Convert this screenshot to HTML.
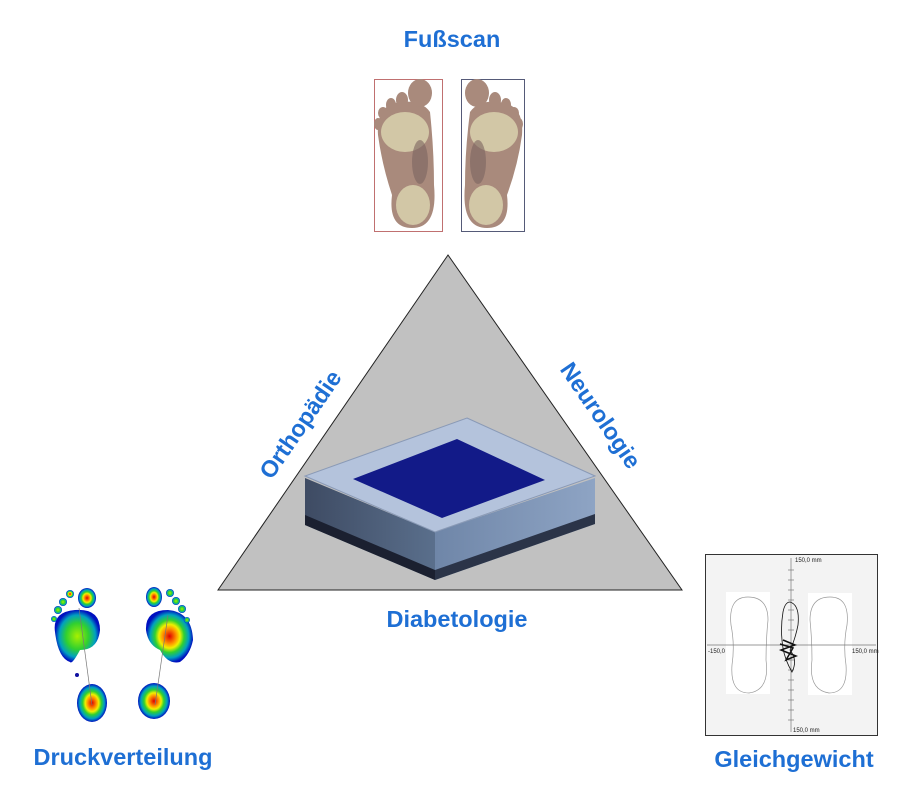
<!DOCTYPE html>
<html><head><meta charset="utf-8"><style>
html,body{margin:0;padding:0;background:#fff;width:905px;height:785px;overflow:hidden}
svg{display:block}
text{font-family:"Liberation Sans",sans-serif;font-weight:bold;fill:#1e6fd4}
</style></head><body>
<svg width="905" height="785" viewBox="0 0 905 785" xmlns="http://www.w3.org/2000/svg">
<defs>
<radialGradient id="heat" cx="50%" cy="50%" r="50%">
<stop offset="0" stop-color="#e00000"/><stop offset="0.3" stop-color="#ff9900"/><stop offset="0.45" stop-color="#f0f000"/><stop offset="0.62" stop-color="#30d030"/><stop offset="0.82" stop-color="#00a0c0"/><stop offset="1" stop-color="#0010c0"/></radialGradient>
<radialGradient id="heatg" cx="50%" cy="50%" r="50%">
<stop offset="0" stop-color="#a8f000"/><stop offset="0.5" stop-color="#30d030"/><stop offset="0.8" stop-color="#00a0c0"/><stop offset="1" stop-color="#0010c0"/></radialGradient>
<linearGradient id="side1" x1="0" y1="0" x2="1" y2="0"><stop offset="0" stop-color="#3e4b63"/><stop offset="1" stop-color="#5a6f8c"/></linearGradient>
<linearGradient id="side2" x1="0" y1="0" x2="1" y2="0"><stop offset="0" stop-color="#6f86a8"/><stop offset="1" stop-color="#8ea4c4"/></linearGradient>
</defs>

<text x="452" y="47" font-size="23.5" text-anchor="middle">Fußscan</text>

<!-- foot scans -->
<rect x="374.5" y="79.5" width="68" height="152" fill="none" stroke="#c07070" stroke-width="1"/>
<rect x="461.5" y="79.5" width="63" height="152" fill="none" stroke="#555a78" stroke-width="1"/>
<g fill="#a98a7c">
<path d="M378 135 Q376 108 395 103 Q420 98 430 112 Q434 150 434 185 Q438 228 412 228 Q388 228 392 195 Q382 165 378 135Z"/>
<ellipse cx="420" cy="93" rx="12" ry="14"/><ellipse cx="402" cy="100" rx="6" ry="8"/><ellipse cx="391" cy="105" rx="5" ry="7"/><ellipse cx="383" cy="113" rx="5" ry="6"/><ellipse cx="378" cy="124" rx="4" ry="6"/>
<path d="M522 135 Q524 108 505 103 Q480 98 470 112 Q465 150 465 185 Q461 228 487 228 Q511 228 507 195 Q518 165 522 135Z"/>
<ellipse cx="477" cy="93" rx="12" ry="14"/><ellipse cx="495" cy="100" rx="6" ry="8"/><ellipse cx="506" cy="105" rx="5" ry="7"/><ellipse cx="514" cy="113" rx="5" ry="6"/><ellipse cx="519" cy="124" rx="4" ry="6"/>
</g>
<g fill="#d2c7a6">
<ellipse cx="405" cy="132" rx="24" ry="20"/><ellipse cx="413" cy="205" rx="17" ry="20"/>
<ellipse cx="494" cy="132" rx="24" ry="20"/><ellipse cx="486" cy="205" rx="17" ry="20"/>
</g>
<g fill="#7c6460" opacity="0.6"><ellipse cx="420" cy="162" rx="8" ry="22"/><ellipse cx="478" cy="162" rx="8" ry="22"/></g>

<!-- triangle -->
<polygon points="448,255 218,590 682,590" fill="#c1c1c1" stroke="#222" stroke-width="1"/>

<text font-size="23.5" text-anchor="middle" transform="translate(307,429) rotate(-55.5)">Orthopädie</text>
<text font-size="23.5" text-anchor="middle" transform="translate(594,420) rotate(55.5)">Neurologie</text>
<text x="457" y="627" font-size="23.5" text-anchor="middle">Diabetologie</text>

<!-- device -->
<polygon points="305,478 435,532 435,580 305,525" fill="url(#side1)"/>
<polygon points="435,532 595,478 595,524 435,580" fill="url(#side2)"/>
<polygon points="305,515 435,570 435,580 305,525" fill="#1b2030"/>
<polygon points="435,570 595,514 595,524 435,580" fill="#2b3448"/>
<polygon points="467,418 595,476 435,532 305,476" fill="#b4c3dc" stroke="#8a9ab6" stroke-width="1"/>
<polygon points="457,439 545,480 442,518 353,479" fill="#121a88"/>

<!-- pressure distribution -->
<g>
<path d="M55 632 Q52 612 75 610 Q100 608 100 630 Q98 650 80 650 Q72 665 70 662 Q58 658 55 632Z" fill="url(#heatg)"/>
<ellipse cx="87" cy="598" rx="9" ry="10" fill="url(#heat)"/>
<circle cx="70" cy="594" r="4" fill="url(#heat)"/><circle cx="63" cy="602" r="4" fill="url(#heatg)"/><circle cx="58" cy="610" r="4" fill="url(#heatg)"/><circle cx="54" cy="619" r="3" fill="url(#heatg)"/>
<ellipse cx="92" cy="703" rx="15" ry="19" fill="url(#heat)"/>
<circle cx="77" cy="675" r="2" fill="#1010a0"/>
<line x1="79" y1="608" x2="92" y2="705" stroke="#777" stroke-width="0.7"/>
<path d="M146 630 Q145 610 168 610 Q192 612 193 640 Q190 655 180 662 Q168 665 160 650 Q148 645 146 630Z" fill="url(#heat)"/>
<ellipse cx="154" cy="597" rx="8" ry="10" fill="url(#heat)"/>
<circle cx="170" cy="593" r="4" fill="url(#heatg)"/><circle cx="176" cy="601" r="4" fill="url(#heatg)"/><circle cx="182" cy="609" r="4" fill="url(#heatg)"/><circle cx="187" cy="620" r="3" fill="url(#heatg)"/>
<ellipse cx="154" cy="701" rx="16" ry="18" fill="url(#heat)"/>
<line x1="168" y1="615" x2="155" y2="705" stroke="#777" stroke-width="0.7"/>
</g>
<text x="123" y="765" font-size="23.5" text-anchor="middle">Druckverteilung</text>

<!-- balance -->
<rect x="705.5" y="554.5" width="172" height="181" fill="#f3f3f3" stroke="#333" stroke-width="1"/>
<rect x="726" y="592" width="44" height="102" fill="#fff"/>
<rect x="808" y="593" width="44" height="102" fill="#fff"/>
<path d="M748 597 Q768 597 768 620 Q766 640 766 660 Q770 690 749 693 Q730 693 732 665 Q735 645 731 625 Q728 597 748 597Z" fill="none" stroke="#999" stroke-width="0.7"/>
<path d="M830 597 Q810 597 810 620 Q812 640 812 660 Q808 690 829 693 Q848 693 846 665 Q843 645 847 625 Q850 597 830 597Z" fill="none" stroke="#999" stroke-width="0.7"/>
<line x1="791" y1="558" x2="791" y2="732" stroke="#777" stroke-width="0.7"/>
<line x1="707" y1="645" x2="876" y2="645" stroke="#777" stroke-width="0.7"/>
<g stroke="#777" stroke-width="0.7">
<line x1="788" y1="570" x2="794" y2="570"/><line x1="788" y1="580" x2="794" y2="580"/><line x1="788" y1="590" x2="794" y2="590"/><line x1="788" y1="600" x2="794" y2="600"/><line x1="788" y1="610" x2="794" y2="610"/><line x1="788" y1="620" x2="794" y2="620"/><line x1="788" y1="630" x2="794" y2="630"/><line x1="788" y1="660" x2="794" y2="660"/><line x1="788" y1="670" x2="794" y2="670"/><line x1="788" y1="680" x2="794" y2="680"/><line x1="788" y1="690" x2="794" y2="690"/><line x1="788" y1="700" x2="794" y2="700"/><line x1="788" y1="710" x2="794" y2="710"/><line x1="788" y1="720" x2="794" y2="720"/>
</g>
<path d="M790 602 Q800 605 798 625 Q795 640 790 650 Q798 660 792 672 Q785 660 783 648 Q780 630 783 612 Q785 602 790 602Z" fill="none" stroke="#111" stroke-width="0.8"/>
<path d="M783 640 L795 645 L781 650 L796 656 L786 660 L793 648 L780 644" fill="none" stroke="#111" stroke-width="1.5"/>
<text x="795" y="562" font-size="6" style="font-weight:normal;fill:#222">150,0 mm</text>
<text x="708" y="653" font-size="6" style="font-weight:normal;fill:#222">-150,0</text>
<text x="852" y="653" font-size="6" style="font-weight:normal;fill:#222">150,0 mm</text>
<text x="793" y="732" font-size="6" style="font-weight:normal;fill:#222">150,0 mm</text>
<text x="794" y="767" font-size="23.5" text-anchor="middle">Gleichgewicht</text>
</svg>
</body></html>
